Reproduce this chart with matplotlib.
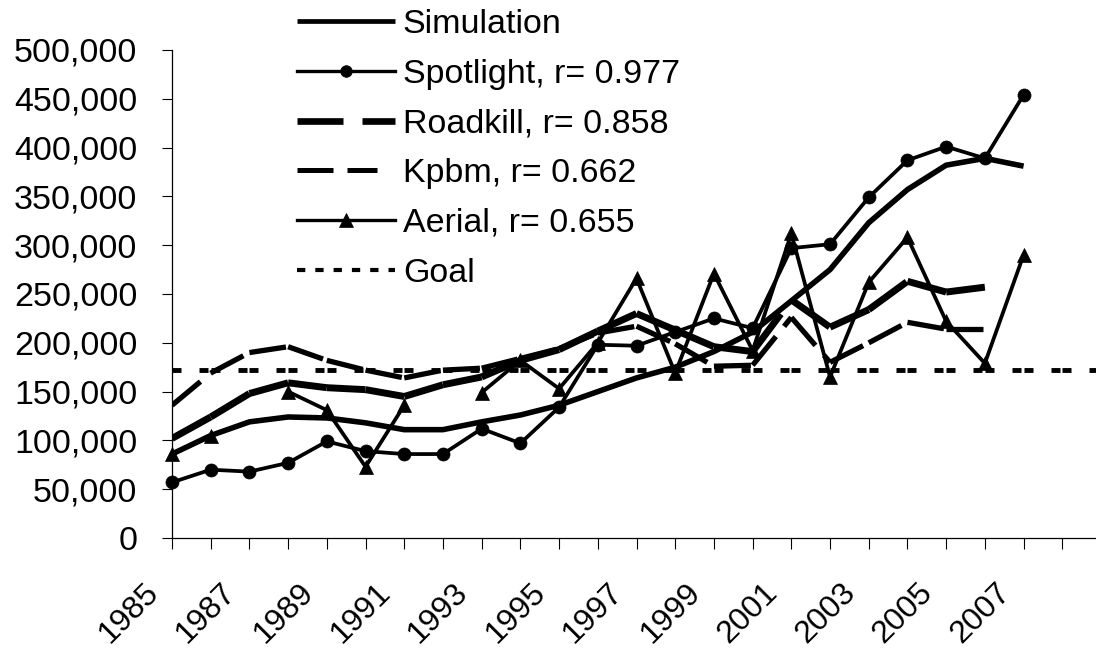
import numpy as np
import matplotlib
matplotlib.use('Agg')
import matplotlib.pyplot as plt
from matplotlib.collections import LineCollection
from matplotlib.lines import Line2D
from matplotlib.ticker import FuncFormatter
from matplotlib.transforms import ScaledTranslation

plt.rcParams['font.family'] = ['Liberation Sans', 'DejaVu Sans']
plt.rcParams['lines.scale_dashes'] = False

# Datos, un valor por año
anios = list(range(1985, 2010))
simulacion = [86, 105, 119, 124, 123, 118, 111, 111, 119, 126, 136, 150,
              164, 175, 191, 211, 243, 275, 323, 357, 382, 389, 381]
spotlight = [57, 70, 68, 77, 99, 89, 86, 86, 112, 97, 134, 198,
             197, 211, 225, 215, 297, 301, 349, 387, 401, 389, 454]
roadkill = [102, 124, 148, 159, 154, 152, 145, 157, 165, 182, 193, 212,
            230, 213, 196, 191, 244, 216, 234, 263, 252, 257]
kpbm = [136, 169, 190, 196, 182, 172, 164, 172, 174, 184, 194, 210,
        217, 199, 176, 177, 226, 180, 200, 221, 214, 214]
aerial = [86, 104, None, 150, 131, 73, 136, None, 149, 182, 153, 200,
          266, 169, 271, 192, 312, 165, 262, 308, 222, 179, 290]
meta = 172

etiquetas = ['Simulation', 'Spotlight, r= 0.977', 'Roadkill, r= 0.858',
             'Kpbm, r= 0.662', 'Aerial, r= 0.655', 'Goal']

PX = 72 / 100  # puntos por pixel


def miles(v):
    return np.array([np.nan if x is None else x * 1000 for x in v], dtype=float)


def segmentos(v):
    y = miles(v)
    x = np.array(anios[:len(y)], dtype=float)
    pts = np.column_stack([x, y])
    return [pts[i:i + 2] for i in range(len(pts) - 1)]


fig = plt.figure(figsize=(10.96, 6.56), dpi=100)
ax = fig.add_axes([172 / 1096, 1 - 538 / 656, (1101 - 172) / 1096, (538 - 50) / 656])

# Simulation
ax.plot(anios[:len(simulacion)], miles(simulacion), color='k', lw=4.0,
        solid_joinstyle='round', solid_capstyle='butt')
# Spotlight
ax.plot(anios[:len(spotlight)], miles(spotlight), color='k', lw=2.7,
        marker='o', ms=9.4, mew=0.5, clip_on=False, zorder=3)
# Roadkill y Kpbm: el patron de trazos empieza de nuevo en cada tramo
ax.add_collection(LineCollection(segmentos(roadkill), colors='k', linewidths=5.0,
                                 linestyles=[(0, (47 * PX, 18 * PX))],
                                 capstyle='butt', zorder=2))
ax.add_collection(LineCollection(segmentos(kpbm), colors='k', linewidths=3.8,
                                 linestyles=[(0, (37 * PX, 13 * PX))],
                                 capstyle='butt', zorder=2))
# Aerial
ax.plot(anios[:len(aerial)], miles(aerial), color='k', lw=2.7,
        marker='^', ms=10.5, mew=0.5, clip_on=False, zorder=3)
# Goal
ax.add_collection(LineCollection(segmentos([meta] * len(anios)), colors='k',
                                 linewidths=3.5, linestyles=[(0, (9 * PX, 18 * PX))],
                                 capstyle='butt', zorder=2))

ax.set_xlim(1985, 2009)
ax.set_ylim(0, 500000)
ax.set_yticks(np.arange(0, 500001, 50000))
ax.yaxis.set_major_formatter(FuncFormatter(lambda v, p: f'{v:,.0f}'))
ax.set_xticks(anios)
ax.set_xticklabels([str(a) if (a - 1985) % 2 == 0 and a <= 2007 else '' for a in anios])

for lado in ['top', 'right']:
    ax.spines[lado].set_visible(False)
for lado in ['left', 'bottom']:
    ax.spines[lado].set_linewidth(0.9)

ax.tick_params(axis='y', direction='out', length=7, width=0.8, pad=18, labelsize=24.5)
ax.tick_params(axis='x', direction='out', length=8, width=0.8, pad=28, labelsize=23)

desplaza = ScaledTranslation(-18 / 100, 0, fig.dpi_scale_trans)
for lab in ax.get_xticklabels():
    lab.set_rotation(45)
    lab.set_ha('right')
    lab.set_va('center')
    lab.set_rotation_mode('anchor')
    lab.set_transform(lab.get_transform() + desplaza)

# Leyenda con los trazos tal como aparecen en la figura original
manijas = [
    Line2D([], [], color='k', lw=3.4, solid_capstyle='butt'),
    Line2D([], [], color='k', lw=2.4, marker='o', ms=8.4, mew=0.5),
    Line2D([], [], color='k', lw=4.8, ls=(0, (46 * PX, 19 * PX, 33 * PX, 100 * PX)),
           dash_capstyle='butt'),
    Line2D([], [], color='k', lw=3.6, ls=(0, (36 * PX, 14 * PX, 30 * PX, 100 * PX)),
           dash_capstyle='butt'),
    Line2D([], [], color='k', lw=2.4, marker='^', ms=9.5, mew=0.5),
    Line2D([], [], color='k', lw=3.0, ls=(0, (8.3 * PX, 10 * PX)), dash_capstyle='butt'),
]
fig.legend(manijas, etiquetas, loc='upper left', bbox_to_anchor=(297 / 1096, 1 - 9 / 656),
           bbox_transform=fig.transFigure, frameon=False, fontsize=24.5,
           handlelength=2.88, handletextpad=0.23, labelspacing=0.55,
           borderpad=0, borderaxespad=0, numpoints=1)

fig.savefig('out.png', dpi=100)
